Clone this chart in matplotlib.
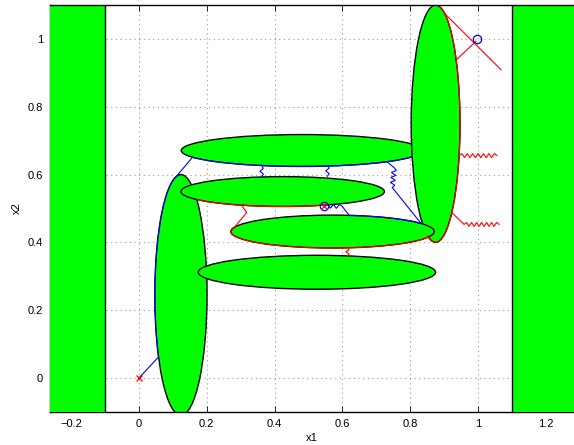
import numpy as np
import matplotlib
matplotlib.use("Agg")
import matplotlib.pyplot as plt
from matplotlib.patches import Ellipse, Rectangle

plt.rcParams['font.family'] = ['Liberation Sans', 'DejaVu Sans']

# ---- data ----
# ellipses (drawing order): left vertical, top, right vertical, 2nd, 3rd, bottom
ell_cx = [0.124, 0.48, 0.875, 0.424, 0.571, 0.525]
ell_cy = [0.245, 0.671, 0.75, 0.55, 0.432, 0.312]
ell_w = [0.154, 0.71, 0.144, 0.60, 0.60, 0.70]
ell_h = [0.71, 0.094, 0.70, 0.088, 0.097, 0.10]

# walls (x ranges)
wall_x0 = [-0.40, 1.10]
wall_x1 = [-0.10, 1.40]

xticks = [-0.2, 0, 0.2, 0.4, 0.6, 0.8, 1, 1.2]
xticklabels = ['\u22120.2', '0', '0.2', '0.4', '0.6', '0.8', '1', '1.2']
yticks = [0, 0.2, 0.4, 0.6, 0.8, 1]
yticklabels = ['0', '0.2', '0.4', '0.6', '0.8', '1']

# path pieces: (ellipse index, start angle deg, end angle deg)
blue_start = (0.0, 0.0)
blue_arcs = [(0, 211, 100), (1, 205, 335.5)]
blue_arc_e3 = (4, 80.6, 29.5)
blue_branch_t = 315.2
blue_branch_knee = (0.753, 0.620)
blue_branch_spring_end = (0.747, 0.562)
blue_branch_end_t = 29.5
blue_circle_pts_x = [0.547, 0.997]
blue_circle_pts_y = [0.507, 1.0]
blue_spring_circle_end = (0.600, 0.506)
blue_vsprings = [((0.362, 0.627), (0.362, 0.593)), ((0.556, 0.627), (0.556, 0.595))]

red_arc_e2 = (3, 212.5, 294.2)
red_e2_leave_t = 246.2
red_knee = (0.318, 0.488)
red_arc_e3 = (4, 180, 340)
red_arc_er = (2, 250, 440)
red_top_lines = [(68, (1.068, 0.909)), (32.5, (0.994, 0.993))]
red_hspring_top = (344.4, (1.056, 0.656))
red_hspring_bot_t = 311.5
red_hspring_bot_knee = (0.959, 0.453)
red_hspring_bot_end = (1.062, 0.453)
red_vspring = ((0.615, 0.385), (0.615, 0.360))
red_x_pts_x = [0.0, 0.547]
red_x_pts_y = [0.0, 0.507]


def ell_point(i, t):
    t = np.deg2rad(t)
    return (ell_cx[i] + ell_w[i] / 2 * np.cos(t), ell_cy[i] + ell_h[i] / 2 * np.sin(t))


def ell_arc(i, t0, t1, n=120):
    t = np.deg2rad(np.linspace(t0, t1, n))
    return list(zip(ell_cx[i] + ell_w[i] / 2 * np.cos(t), ell_cy[i] + ell_h[i] / 2 * np.sin(t)))


def spring(p0, p1, n, amp):
    p0 = np.array(p0, float)
    p1 = np.array(p1, float)
    d = p1 - p0
    L = np.hypot(*d)
    u = d / L
    nrm = np.array([-u[1], u[0]])
    pts = [tuple(p0)]
    m = 2 * n
    for k in range(1, m):
        s = k / m
        sgn = 1 if k % 2 else -1
        pts.append(tuple(p0 + d * s + nrm * amp * sgn))
    pts.append(tuple(p1))
    return pts


def draw(ax, pts, color):
    pts = np.array(pts)
    ax.plot(pts[:, 0], pts[:, 1], color=color, lw=0.8, zorder=5, solid_joinstyle='miter')


fig = plt.figure(figsize=(5.74, 4.45), dpi=100)
ax = fig.add_axes([50 / 574, 33 / 445, 524 / 574, 407 / 445])
ax.set_xlim(-0.262, 1.283)
ax.set_ylim(-0.1, 1.1)

ax.set_axisbelow(True)
ax.grid(True, color='#999999', linestyle=(0, (1, 3.2)), linewidth=0.8)

for x0, x1 in zip(wall_x0, wall_x1):
    ax.add_patch(Rectangle((x0, -0.3), x1 - x0, 1.4, facecolor='#00ff00',
                           edgecolor='black', linewidth=1.0, zorder=3))

for k in range(len(ell_cx)):
    ax.add_patch(Ellipse((ell_cx[k], ell_cy[k]), ell_w[k], ell_h[k],
                         facecolor='#00ff00', edgecolor='black', linewidth=1.0,
                         zorder=2 + 0.1 * k))

# blue path
pts = [blue_start]
for (i, a, b) in blue_arcs:
    pts += ell_arc(i, a, b)
draw(ax, pts, 'blue')
# blue branch from top ellipse down to third ellipse
p = ell_point(1, blue_branch_t)
pts = [p, blue_branch_knee]
pts += spring(blue_branch_knee, blue_branch_spring_end, 4, 0.007)
pts.append(ell_point(4, blue_branch_end_t))
draw(ax, pts, 'blue')
# blue from circle along third ellipse top
pts = spring((blue_circle_pts_x[0], blue_circle_pts_y[0]), blue_spring_circle_end, 3, 0.006)
pts += ell_arc(*blue_arc_e3)
draw(ax, pts, 'blue')
for a, b in blue_vsprings:
    draw(ax, spring(a, b, 2, 0.005), 'blue')

# red paths
draw(ax, ell_arc(*red_arc_e2), 'red')
pts = [ell_point(3, red_e2_leave_t), red_knee]
pts += ell_arc(*red_arc_e3)
pts += ell_arc(*red_arc_er)
draw(ax, pts, 'red')
for t, end in red_top_lines:
    draw(ax, [ell_point(2, t), end], 'red')
t, end = red_hspring_top
draw(ax, spring(ell_point(2, t), end, 7, 0.006), 'red')
pts = [ell_point(2, red_hspring_bot_t)]
pts += spring(red_hspring_bot_knee, red_hspring_bot_end, 7, 0.006)
draw(ax, pts, 'red')
draw(ax, spring(red_vspring[0], red_vspring[1], 2, 0.005), 'red')

ax.plot(blue_circle_pts_x, blue_circle_pts_y, 'o', mfc='none', mec='blue', ms=6, mew=0.9, zorder=6)
ax.plot(red_x_pts_x, red_x_pts_y, 'x', color='red', ms=4, mew=0.9, zorder=7)

ax.set_xticks(xticks)
ax.set_xticklabels(xticklabels)
ax.set_yticks(yticks)
ax.set_yticklabels(yticklabels)
ax.tick_params(direction='in', length=4, width=0.6, labelsize=8, top=True, right=True, pad=5)
for s in ax.spines.values():
    s.set_linewidth(1.0)
    s.set_color('black')
ax.set_xlabel('x1', fontsize=8, labelpad=3)
ax.set_ylabel('x2', fontsize=8, labelpad=4)

fig.savefig('out.png', dpi=100)
